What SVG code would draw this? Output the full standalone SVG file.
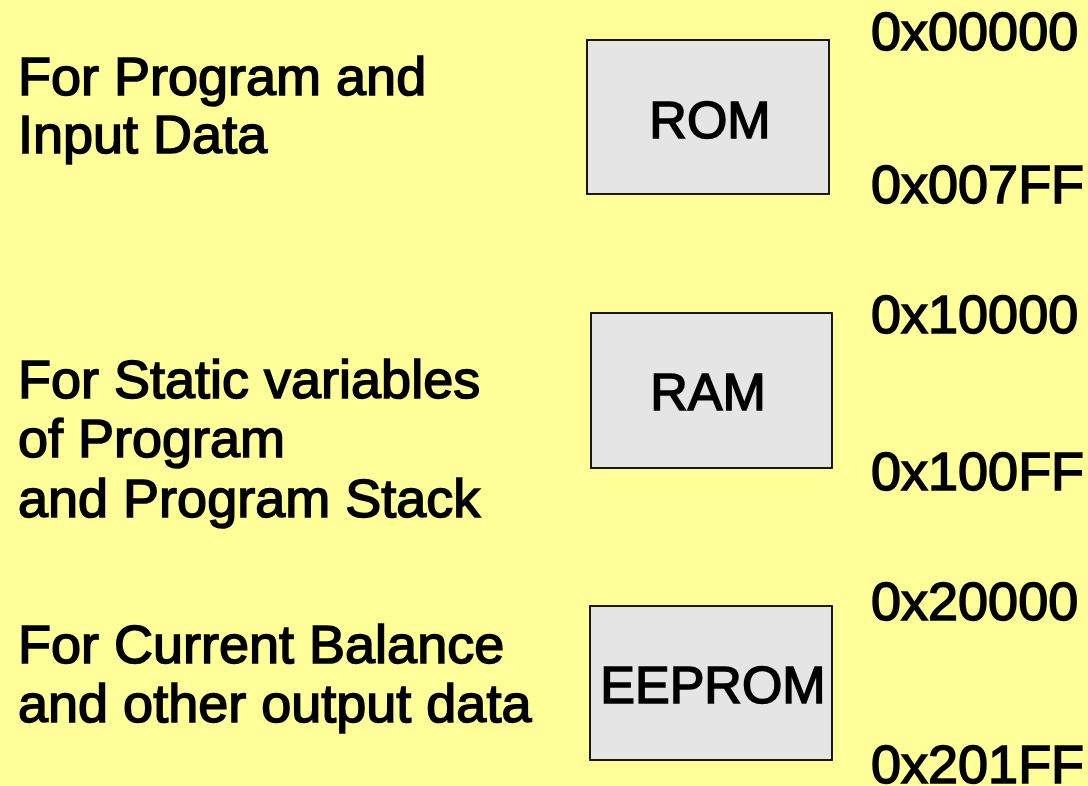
<svg xmlns="http://www.w3.org/2000/svg" width="1088" height="786" viewBox="0 0 1088 786">
<style>
.t{font-family:"Liberation Sans",Arial,sans-serif;font-size:54px;fill:#000;stroke:#000;stroke-width:1.6}
.b{font-family:"Liberation Sans",Arial,sans-serif;font-size:52px;fill:#000;stroke:#000;stroke-width:1.6;text-anchor:middle}
.box{fill:#E5E5E5;stroke:#000;stroke-width:1.8}
</style>
<rect width="1088" height="786" fill="#FFFF99"/>
<g id="rom">
<rect class="box" x="587" y="40" width="242" height="154"/>
<text class="b" x="710" y="138">ROM</text>
</g>
<g id="ram">
<rect class="box" x="591" y="313" width="241" height="155"/>
<text class="b" x="708" y="410">RAM</text>
</g>
<g id="eeprom">
<rect class="box" x="590" y="606" width="242" height="154"/>
<text class="b" x="713" y="703">EEPROM</text>
</g>
<g id="labels">
<text class="t" x="18" y="95">For Program and</text>
<text class="t" x="18" y="153">Input Data</text>
<text class="t" x="18" y="398">For Static variables</text>
<text class="t" x="18" y="457">of Program</text>
<text class="t" x="18" y="517">and Program Stack</text>
<text class="t" x="18" y="663">For Current Balance</text>
<text class="t" x="18" y="722">and other output data</text>
</g>
<g id="addresses">
<text class="t" x="871" y="50">0x00000</text>
<text class="t" x="871" y="203">0x007FF</text>
<text class="t" x="871" y="333">0x10000</text>
<text class="t" x="871" y="490">0x100FF</text>
<text class="t" x="871" y="620">0x20000</text>
<text class="t" x="871" y="783">0x201FF</text>
</g>
<g id="connectors"/>
</svg>
